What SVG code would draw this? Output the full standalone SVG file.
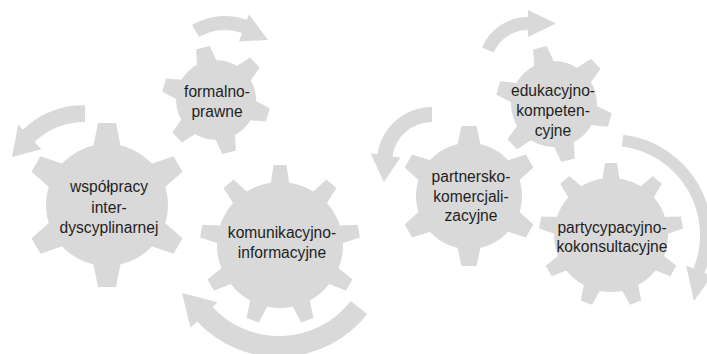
<svg xmlns="http://www.w3.org/2000/svg" xmlns:xlink="http://www.w3.org/1999/xlink" width="707" height="354" viewBox="0 0 707 354">
<style>
.g{fill:#D9D9D9}
.a{fill:#D9D9D9}
.t{font-family:"Liberation Sans",Arial,sans-serif;font-size:15.6px;fill:#1F1F1F;text-anchor:middle}
</style>
<defs>
<polygon id="t1" points="-14,-57 -9,-82 9,-82 14,-57"/>
<polygon id="t2" points="-10.5,-36 -7,-54 7,-54 10.5,-36"/>
<polygon id="t3" points="-9.5,-59 -6.5,-80 6.5,-80 9.5,-59"/>
<polygon id="t4" points="-10.5,-39 -7,-58 7,-58 10.5,-39"/>
<polygon id="t5" points="-12,-49 -7.5,-70 7.5,-70 12,-49"/>
<polygon id="t6" points="-9,-53 -6,-72 6,-72 9,-53"/>
</defs>
<rect width="707" height="354" fill="#FFFFFF"/>
<g id="connectors">
<path class="a" d="M192 25.1 A64 64 0 0 1 246.9 19.8 L248.9 14.2 L268 40 L239 41.5 L242.1 33 A50 50 0 0 0 199.2 37.1 Z"/>
<path class="a" d="M85 105 A91 91 0 0 0 22.9 129.5 L18.2 124.4 L12 157 L41.4 149.2 L34.5 141.9 A74 74 0 0 1 85 122 Z"/>
<path class="a" d="M367.3 314 A112 112 0 0 1 197.1 321.4 L190.5 327.5 L182 293 L217.6 302.3 L212.5 307.1 A91 91 0 0 0 350.7 301.1 Z"/>
<path class="a" d="M482 47.5 A50 50 0 0 1 528 17 L528 10 L556 23.5 L528 37 L528 30 A37 37 0 0 0 493.9 52.5 Z"/>
<path class="a" d="M432 107 A55 55 0 0 0 377.5 154.3 L370.6 153.4 L384 182 L400.3 157.5 L392.4 156.4 A40 40 0 0 1 432 122 Z"/>
<path class="a" d="M623.3 134.7 A101 101 0 0 1 704.6 272.9 L712 275.9 L694 301 L686.1 265.4 L693.5 268.4 A89 89 0 0 0 621.8 146.6 Z"/>
</g>
<g id="gear-wspolpracy" class="g">
<circle cx="107" cy="205" r="61"/>
<use href="#t1" transform="translate(107 205) rotate(0)"/>
<use href="#t1" transform="translate(107 205) rotate(60)"/>
<use href="#t1" transform="translate(107 205) rotate(120)"/>
<use href="#t1" transform="translate(107 205) rotate(180)"/>
<use href="#t1" transform="translate(107 205) rotate(240)"/>
<use href="#t1" transform="translate(107 205) rotate(300)"/>
<text class="t" x="109" y="192">współpracy</text>
<text class="t" x="109" y="212.5">inter-</text>
<text class="t" x="109" y="233">dyscyplinarnej</text>
</g>
<g id="gear-formalno" class="g">
<circle cx="216" cy="100" r="40"/>
<use href="#t2" transform="translate(216 100) rotate(-14)"/>
<use href="#t2" transform="translate(216 100) rotate(46)"/>
<use href="#t2" transform="translate(216 100) rotate(106)"/>
<use href="#t2" transform="translate(216 100) rotate(166)"/>
<use href="#t2" transform="translate(216 100) rotate(226)"/>
<use href="#t2" transform="translate(216 100) rotate(286)"/>
<text class="t" x="217" y="97">formalno-</text>
<text class="t" x="217" y="117">prawne</text>
</g>
<g id="gear-komunikacyjno" class="g">
<circle cx="280" cy="245" r="63"/>
<use href="#t3" transform="translate(280 245) rotate(0)"/>
<use href="#t3" transform="translate(280 245) rotate(40)"/>
<use href="#t3" transform="translate(280 245) rotate(80)"/>
<use href="#t3" transform="translate(280 245) rotate(120)"/>
<use href="#t3" transform="translate(280 245) rotate(160)"/>
<use href="#t3" transform="translate(280 245) rotate(200)"/>
<use href="#t3" transform="translate(280 245) rotate(240)"/>
<use href="#t3" transform="translate(280 245) rotate(280)"/>
<use href="#t3" transform="translate(280 245) rotate(320)"/>
<text class="t" x="282" y="238">komunikacyjno-</text>
<text class="t" x="282" y="258">informacyjne</text>
</g>
<g id="gear-edukacyjno" class="g">
<circle cx="554" cy="104" r="43"/>
<use href="#t4" transform="translate(554 104) rotate(-14)"/>
<use href="#t4" transform="translate(554 104) rotate(46)"/>
<use href="#t4" transform="translate(554 104) rotate(106)"/>
<use href="#t4" transform="translate(554 104) rotate(166)"/>
<use href="#t4" transform="translate(554 104) rotate(226)"/>
<use href="#t4" transform="translate(554 104) rotate(286)"/>
<text class="t" x="553" y="96">edukacyjno-</text>
<text class="t" x="553" y="116">kompeten-</text>
<text class="t" x="553" y="136">cyjne</text>
</g>
<g id="gear-partnersko" class="g">
<circle cx="469" cy="196" r="53"/>
<use href="#t5" transform="translate(469 196) rotate(0)"/>
<use href="#t5" transform="translate(469 196) rotate(60)"/>
<use href="#t5" transform="translate(469 196) rotate(120)"/>
<use href="#t5" transform="translate(469 196) rotate(180)"/>
<use href="#t5" transform="translate(469 196) rotate(240)"/>
<use href="#t5" transform="translate(469 196) rotate(300)"/>
<text class="t" x="471" y="182">partnersko-</text>
<text class="t" x="471" y="201.5">komercjali-</text>
<text class="t" x="471" y="221">zacyjne</text>
</g>
<g id="gear-partycypacyjno" class="g">
<circle cx="611" cy="235" r="57"/>
<use href="#t6" transform="translate(611 235) rotate(0)"/>
<use href="#t6" transform="translate(611 235) rotate(40)"/>
<use href="#t6" transform="translate(611 235) rotate(80)"/>
<use href="#t6" transform="translate(611 235) rotate(120)"/>
<use href="#t6" transform="translate(611 235) rotate(160)"/>
<use href="#t6" transform="translate(611 235) rotate(200)"/>
<use href="#t6" transform="translate(611 235) rotate(240)"/>
<use href="#t6" transform="translate(611 235) rotate(280)"/>
<use href="#t6" transform="translate(611 235) rotate(320)"/>
<text class="t" x="612" y="233">partycypacyjno-</text>
<text class="t" x="612" y="252">kokonsultacyjne</text>
</g>
</svg>
